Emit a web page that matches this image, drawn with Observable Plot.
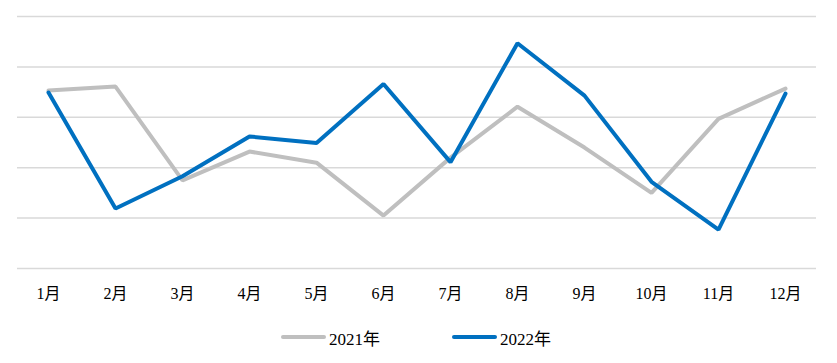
<!DOCTYPE html>
<html>
<head>
<meta charset="utf-8">
<script src="https://cdn.jsdelivr.net/npm/d3@7"></script>
<script src="https://cdn.jsdelivr.net/npm/@observablehq/plot@0.6"></script>
<style>
  body { margin: 0; background: #fff; }
  #chart { width: 837px; }
  .legend { position: relative; width: 837px; height: 53px;
    font-family: "Liberation Serif", "Noto Sans CJK SC", serif; font-size: 17px; color: #000; }
  .item { position: absolute; top: 16px; display: flex; align-items: center; height: 22px; }
  .sw { width: 45px; height: 4px; border-radius: 2px; margin-right: 3px; }
</style>
</head>
<body>
<div id="chart"></div>
<script>
const months = ["1月","2月","3月","4月","5月","6月","7月","8月","9月","10月","11月","12月"];
const seriesNames = ["2021年", "2022年"];
const values2021 = [3.53, 3.61, 1.75, 2.32, 2.10, 1.05, 2.20, 3.21, 2.40, 1.50, 2.97, 3.57];
const values2022 = [3.49, 1.19, 1.83, 2.62, 2.49, 3.66, 2.11, 4.47, 3.43, 1.72, 0.77, 3.47];
const gridTicks = [0, 1, 2, 3, 4, 5];
const colors = ["#BFBFBF", "#0070C0"];
const legendLeft = [281, 452];

const data = [];
months.forEach((m, i) => {
  data.push({month: m, value: values2021[i], series: seriesNames[0]});
  data.push({month: m, value: values2022[i], series: seriesNames[1]});
});

const chart = Plot.plot({
  width: 837,
  height: 310,
  marginLeft: 17,
  marginRight: 21,
  marginTop: 16,
  marginBottom: 42,
  style: {fontFamily: "'Liberation Serif', 'Noto Sans CJK SC', serif", fontSize: "16px", color: "#000", background: "#fff"},
  x: {type: "point", domain: months, padding: 0.46, label: null},
  y: {domain: [0, 5], axis: null},
  color: {domain: seriesNames, range: colors},
  marks: [
    Plot.ruleY(gridTicks, {stroke: "#D9D9D9", strokeWidth: 1.5}),
    Plot.line(data, {x: "month", y: "value", z: "series", stroke: "series", strokeWidth: 4, strokeLinejoin: "miter", strokeLinecap: "round"}),
    Plot.axisX({tickSize: 0, tickPadding: 19, fontSize: 16, label: null})
  ]
});
document.getElementById("chart").appendChild(chart);

const legend = document.createElement("div");
legend.className = "legend";
seriesNames.forEach((s, i) => {
  const it = document.createElement("div");
  it.className = "item";
  it.style.left = legendLeft[i] + "px";
  const sw = document.createElement("span");
  sw.className = "sw";
  sw.style.background = colors[i];
  const tx = document.createElement("span");
  tx.textContent = s;
  it.appendChild(sw); it.appendChild(tx);
  legend.appendChild(it);
});
document.body.appendChild(legend);
</script>
</body>
</html>
